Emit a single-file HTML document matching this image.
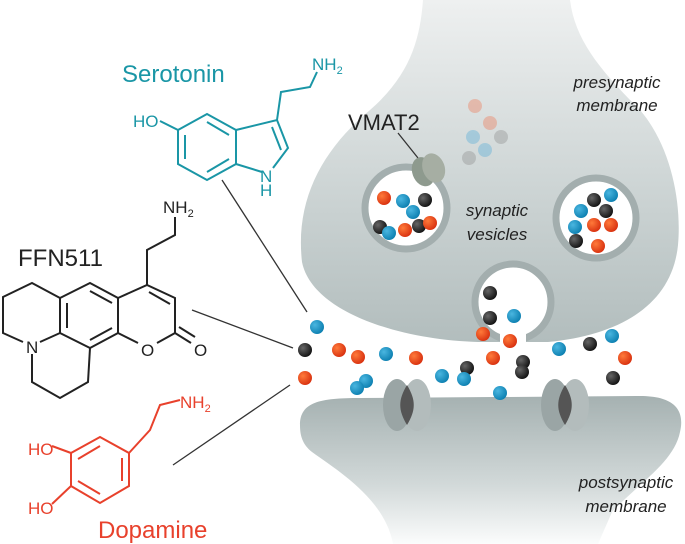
<!DOCTYPE html>
<html><head><style>body{margin:0;background:#fff}svg{display:block}text{font-family:"Liberation Sans",sans-serif}</style></head><body>
<svg width="685" height="544" viewBox="0 0 685 544" xmlns="http://www.w3.org/2000/svg">
<defs>
<linearGradient id="pre" x1="0" y1="0" x2="0" y2="1"><stop offset="0" stop-color="#eef0f0"/><stop offset="0.5" stop-color="#d0d7d7"/><stop offset="1" stop-color="#b2bdbd"/></linearGradient>
<linearGradient id="post" x1="0" y1="0" x2="0" y2="1"><stop offset="0" stop-color="#a5b1b1"/><stop offset="0.6" stop-color="#d2d9d9"/><stop offset="1" stop-color="#fbfcfc"/></linearGradient>
<radialGradient id="b" cx="0.35" cy="0.35" r="0.7"><stop offset="0" stop-color="#4ab6e0"/><stop offset="1" stop-color="#0c7fb0"/></radialGradient>
<radialGradient id="r" cx="0.35" cy="0.35" r="0.7"><stop offset="0" stop-color="#ff7a3a"/><stop offset="1" stop-color="#d8300f"/></radialGradient>
<radialGradient id="k" cx="0.35" cy="0.35" r="0.7"><stop offset="0" stop-color="#666"/><stop offset="1" stop-color="#111"/></radialGradient>
</defs>
<path d="M423,0 L570,0 C575,40 600,70 640,110 C670,145 682,200 678,245 C672,305 620,335 548,342 L478,342 C400,340 312,312 302,262 C295,200 322,150 370,110 C410,75 420,40 423,0 Z" fill="url(#pre)"/>
<circle cx="513" cy="302" r="38" fill="#fff" stroke="#a3aeae" stroke-width="7"/>
<rect x="500" y="334" width="26" height="14" fill="#fff"/>
<circle cx="406" cy="208" r="41" fill="#fff" stroke="#a3aeae" stroke-width="7"/>
<circle cx="596" cy="218" r="40" fill="#fff" stroke="#a3aeae" stroke-width="7"/>
<path d="M300,425 C300,402 320,398 360,398 L640,396 C680,396 684,415 680,432 C674,462 640,482 612,512 L598,544 L393,544 C385,500 340,472 312,452 C302,444 300,435 300,425 Z" fill="url(#post)"/>
<g transform="translate(407,405)"><ellipse cx="-10" cy="0" rx="14" ry="26" fill="#9aa5a5"/><ellipse cx="10" cy="0" rx="14" ry="26" fill="#b3bcbc"/><path d="M0,-20 C-9,-5 -9,5 0,20 C9,5 9,-5 0,-20Z" fill="#555"/></g>
<g transform="translate(565,405)"><ellipse cx="-10" cy="0" rx="14" ry="26" fill="#9aa5a5"/><ellipse cx="10" cy="0" rx="14" ry="26" fill="#b3bcbc"/><path d="M0,-20 C-9,-5 -9,5 0,20 C9,5 9,-5 0,-20Z" fill="#555"/></g>
<line x1="398" y1="133" x2="418" y2="158" stroke="#333" stroke-width="1.3"/>
<g transform="translate(428,170) rotate(-20)"><ellipse cx="-5" cy="0" rx="11" ry="15" fill="#8e9a8e"/><ellipse cx="6" cy="0" rx="11" ry="15" fill="#a6aea3"/></g>
<text x="348" y="130" font-size="22" fill="#222">VMAT2</text>
<g opacity="0.35"><circle cx="475" cy="106" r="7" fill="#f0704a"/><circle cx="490" cy="123" r="7" fill="#f0704a"/><circle cx="473" cy="137" r="7" fill="#4aa8d8"/><circle cx="501" cy="137" r="7" fill="#888"/><circle cx="485" cy="150" r="7" fill="#4aa8d8"/><circle cx="469" cy="158" r="7" fill="#888"/></g>
<g>
<circle cx="384" cy="198" r="7" fill="url(#r)"/><circle cx="403" cy="201" r="7" fill="url(#b)"/><circle cx="425" cy="200" r="7" fill="url(#k)"/><circle cx="413" cy="212" r="7" fill="url(#b)"/>
<circle cx="380" cy="227" r="7" fill="url(#k)"/><circle cx="389" cy="233" r="7" fill="url(#b)"/><circle cx="405" cy="230" r="7" fill="url(#r)"/><circle cx="419" cy="226" r="7" fill="url(#k)"/><circle cx="430" cy="223" r="7" fill="url(#r)"/>
<circle cx="594" cy="200" r="7" fill="url(#k)"/><circle cx="611" cy="195" r="7" fill="url(#b)"/><circle cx="581" cy="211" r="7" fill="url(#b)"/><circle cx="606" cy="211" r="7" fill="url(#k)"/><circle cx="594" cy="225" r="7" fill="url(#r)"/><circle cx="611" cy="225" r="7" fill="url(#r)"/><circle cx="575" cy="227" r="7" fill="url(#b)"/><circle cx="576" cy="241" r="7" fill="url(#k)"/><circle cx="598" cy="246" r="7" fill="url(#r)"/>
<circle cx="490" cy="293" r="7" fill="url(#k)"/><circle cx="490" cy="318" r="7" fill="url(#k)"/><circle cx="514" cy="316" r="7" fill="url(#b)"/><circle cx="483" cy="334" r="7" fill="url(#r)"/>
<circle cx="317" cy="327" r="7" fill="url(#b)"/><circle cx="305" cy="350" r="7" fill="url(#k)"/><circle cx="305" cy="378" r="7" fill="url(#r)"/><circle cx="339" cy="350" r="7" fill="url(#r)"/><circle cx="358" cy="357" r="7" fill="url(#r)"/><circle cx="386" cy="354" r="7" fill="url(#b)"/><circle cx="416" cy="358" r="7" fill="url(#r)"/><circle cx="366" cy="381" r="7" fill="url(#b)"/><circle cx="357" cy="388" r="7" fill="url(#b)"/><circle cx="442" cy="376" r="7" fill="url(#b)"/><circle cx="467" cy="368" r="7" fill="url(#k)"/><circle cx="464" cy="379" r="7" fill="url(#b)"/><circle cx="493" cy="358" r="7" fill="url(#r)"/><circle cx="510" cy="341" r="7" fill="url(#r)"/><circle cx="523" cy="362" r="7" fill="url(#k)"/><circle cx="522" cy="372" r="7" fill="url(#k)"/><circle cx="500" cy="393" r="7" fill="url(#b)"/><circle cx="559" cy="349" r="7" fill="url(#b)"/><circle cx="590" cy="344" r="7" fill="url(#k)"/><circle cx="612" cy="336" r="7" fill="url(#b)"/><circle cx="625" cy="358" r="7" fill="url(#r)"/><circle cx="613" cy="378" r="7" fill="url(#k)"/>
</g>
<g font-style="italic" font-size="17" fill="#222" text-anchor="middle">
<text x="617" y="88">presynaptic</text><text x="617" y="111">membrane</text>
<text x="497" y="216">synaptic</text><text x="497" y="240">vesicles</text>
<text x="626" y="488">postsynaptic</text><text x="626" y="512">membrane</text>
</g>
<g stroke="#333" stroke-width="1.3"><line x1="222" y1="180" x2="307" y2="312"/><line x1="192" y1="310" x2="293" y2="348"/><line x1="173" y1="465" x2="290" y2="385"/></g>
<!-- Serotonin -->
<g fill="none" stroke="#1a96a6" stroke-width="2">
<polygon points="207,114 236,130 236,164 207,180 178,164 178,130"/>
<line x1="185" y1="135" x2="185" y2="159"/><line x1="207" y1="122" x2="229" y2="135"/><line x1="207" y1="172" x2="229" y2="159"/>
<polyline points="236,130 277,120 288,148 273,168"/><line x1="236" y1="164" x2="262" y2="172"/><line x1="272" y1="127" x2="281" y2="150"/>
<line x1="178" y1="130" x2="160" y2="121"/>
<polyline points="277,120 281,92 310,87 317,72"/>
</g>
<g fill="#1a96a6"><text x="122" y="82" font-size="24">Serotonin</text><text x="133" y="127" font-size="17">HO</text><text x="260" y="182" font-size="17">N</text><text x="260" y="196" font-size="17">H</text><text x="312" y="70" font-size="17">NH<tspan font-size="11" dy="4">2</tspan></text></g>
<!-- FFN511 -->
<g fill="none" stroke="#222" stroke-width="2">
<polyline points="60,298 32,283 3,297 3,333 23,342"/>
<polygon points="60,298 90,283 118,298 118,333 90,348 60,333"/>
<line x1="67" y1="303" x2="67" y2="328"/><line x1="90" y1="291" x2="112" y2="303"/><line x1="90" y1="340" x2="112" y2="328"/>
<line x1="60" y1="333" x2="40" y2="342"/>
<polyline points="32,354 32,382 60,398 88,382 90,348"/>
<polyline points="118,298 147,285 175,298 175,333 157,343"/><line x1="138" y1="343" x2="118" y2="333"/>
<line x1="149" y1="292" x2="170" y2="304"/>
<line x1="175" y1="333" x2="191" y2="343"/><line x1="179" y1="327" x2="195" y2="337"/>
<polyline points="147,285 147,250 175,235 175,217"/>
</g>
<g fill="#222"><text x="18" y="266" font-size="24">FFN511</text><text x="163" y="213" font-size="17">NH<tspan font-size="11" dy="4">2</tspan></text><text x="26" y="353" font-size="17">N</text><text x="141" y="356" font-size="17">O</text><text x="194" y="356" font-size="17">O</text></g>
<!-- Dopamine -->
<g fill="none" stroke="#e8412c" stroke-width="2">
<polygon points="100,437 129,453 129,486 100,503 71,486 71,453"/>
<line x1="78" y1="459" x2="100" y2="446"/><line x1="122" y1="458" x2="122" y2="481"/><line x1="78" y1="481" x2="100" y2="494"/>
<line x1="71" y1="453" x2="52" y2="446"/><line x1="71" y1="486" x2="52" y2="504"/>
<polyline points="129,453 150,430 160,405 180,400"/>
</g>
<g fill="#e8412c"><text x="180" y="408" font-size="17">NH<tspan font-size="11" dy="4">2</tspan></text><text x="28" y="455" font-size="17">HO</text><text x="28" y="514" font-size="17">HO</text><text x="98" y="538" font-size="24">Dopamine</text></g>
</svg>
</body></html>
